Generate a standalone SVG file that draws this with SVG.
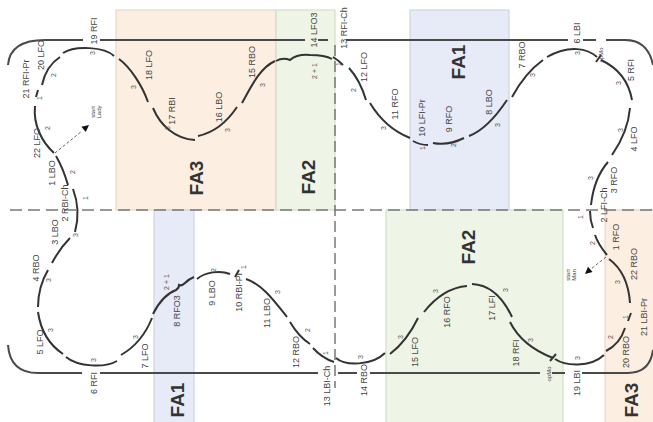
<svg xmlns="http://www.w3.org/2000/svg" width="653" height="422" viewBox="0 0 653 422">
<style>
.fa3{fill:#fcefe1;stroke:#e3d2c0;stroke-width:1}
.fa2{fill:#eef5e6;stroke:#cbd9bf;stroke-width:1}
.fa1{fill:#e7eaf7;stroke:#c8cee2;stroke-width:1}
.rink{fill:none;stroke:#4a4a4a;stroke-width:2}
.mid{fill:none;stroke:#777;stroke-width:1.5;stroke-dasharray:12 6}
.vdash{fill:none;stroke:#777;stroke-width:1.5;stroke-dasharray:11 5}
.edge path{fill:none;stroke:#333;stroke-width:2;stroke-linecap:butt}
.lbl{font-family:"Liberation Sans",Arial,sans-serif;font-size:9px;fill:#444;text-anchor:middle}
.beat{font-family:"Liberation Sans",Arial,sans-serif;font-size:7px;fill:#555;text-anchor:middle}
.sm{font-family:"Liberation Sans",Arial,sans-serif;font-size:6px;fill:#444;text-anchor:middle}
.fa{font-family:"Liberation Sans",Arial,sans-serif;font-size:19px;font-weight:bold;fill:#333;text-anchor:middle}
.start{fill:none;stroke:#666;stroke-width:1;stroke-dasharray:3 2}
</style>

<g id="areas">
  <rect id="FA3-top" class="fa3" x="116" y="10" width="160" height="200"/>
  <rect id="FA2-top" class="fa2" x="276" y="10" width="59" height="200"/>
  <rect id="FA1-top" class="fa1" x="410" y="10" width="99" height="200"/>
  <rect id="FA1-bottom" class="fa1" x="154" y="210" width="40" height="213"/>
  <rect id="FA2-bottom" class="fa2" x="386" y="210" width="177" height="213"/>
  <rect id="FA3-bottom" class="fa3" x="605" y="210" width="49" height="213"/>
</g>

<g id="rink">
  <path class="rink" d="M8,65 Q10,40 45,40 L83,40 M100,40 L305,40 M318,40 L328,40 M346,40 L568,40 M583,40 L596,40 M606,40 L625,40 Q648,40 653,65"/>
  <path class="rink" d="M8,345 Q10,373 38,373 L82,373 M100,373 L318,373 M338,373 L357,373 M370,373 L540,373 M552,373 L565,373 M582,373 L628,373 Q650,373 653,350"/>
  <path class="mid" d="M10,210 L653,210"/>
  <path class="vdash" d="M335,45 L335,388"/>
</g>

<g id="fa-labels">
  <text class="fa" transform="translate(203,178) rotate(-90)">FA3</text>
  <text class="fa" transform="translate(315,177) rotate(-90)">FA2</text>
  <text class="fa" transform="translate(465,62) rotate(-90)">FA1</text>
  <text class="fa" transform="translate(184,400) rotate(-90)">FA1</text>
  <text class="fa" transform="translate(475,247) rotate(-90)">FA2</text>
  <text class="fa" transform="translate(638,400) rotate(-90)">FA3</text>
</g>

<g id="connectors" class="edge">
  <path id="s19RFI" d="M114,56 C105,47 75,45 63,53"/>
  <path id="s20LFO" d="M60,57 Q46,66 42,85"/>
  <path id="s21RFIPr" d="M38,90 L36,97"/>
  <path id="s22LFO" d="M35,106 C33,125 42,142 54,153"/>
  <path id="s1LBO" d="M56,156 Q63,168 68,185"/>
  <path id="s2RBICh" d="M73,189 Q81,210 75,232"/>
  <path id="s3LBO" d="M70,238 Q60,248 52,263"/>
  <path id="s4RBO" d="M48,270 Q38,287 38,307"/>
  <path id="s5LFO" d="M38,312 Q42,340 63,354"/>
  <path id="s6RFI" d="M66,357 C78,367 105,368 117,361"/>
  <path id="s7LFO" d="M121,355 Q142,343 152,318"/>
  <path id="s8RFO3" d="M153,314 C160,300 168,293 176,290 C178,289 179,287 179,285 C181,286 183,285 185,283 Q189,279 194,277"/>
  <path id="s9LBO" d="M197,279 C205,272 220,270 230,274"/>
  <path id="s10RBIPr" d="M235,277 L239,270"/>
  <path id="s11LBO" d="M246,279 C262,284 275,302 287,317"/>
  <path id="s12RBO" d="M290,322 Q299,337 310,344"/>
  <path id="s13LBICh" d="M313,348 Q322,358 334,362"/>
  <path id="s14RBO" d="M336,358 C345,366 372,366 385,353"/>
  <path id="s15LFO" d="M390,354 Q407,341 418,318"/>
  <path id="s16RFO" d="M424,312 Q443,288 467,286"/>
  <path id="s17LFI" d="M472,284 Q497,285 512,317"/>
  <path id="s18RFI" d="M510,322 Q522,346 553,358"/>
  <path id="opMoB" d="M550,361 L556,354"/>
  <path id="s19LBI" d="M555,359 C565,366 590,368 604,355"/>
  <path id="s20RBO" d="M606,351 Q620,344 625,328"/>
  <path id="s21LBIPr" d="M628,321 L631,313"/>
  <path id="s22RBO" d="M630,303 Q628,273 609,259"/>
  <path id="s1RFO" d="M607,255 Q598,244 595,235"/>
  <path id="s2LFICh" d="M593,228 Q590,220 590,211"/>
  <path id="s3RFO" d="M591,205 Q594,178 608,162"/>
  <path id="s4LFO" d="M612,155 Q628,132 630,108"/>
  <path id="s5RFI" d="M632,100 Q627,72 601,60"/>
  <path id="opMoT" d="M596,62 L601,55"/>
  <path id="s6LBI" d="M597,57 C588,49 570,44 547,57"/>
  <path id="s7RBO" d="M543,60 Q525,73 512,97"/>
  <path id="s8LBO" d="M507,100 C497,115 485,130 469,136"/>
  <path id="s9RFO" d="M464,138 Q448,146 433,143"/>
  <path id="s10LFIPr" d="M428,145 Q420,145 413,141"/>
  <path id="s11RFO" d="M370,103 Q385,128 410,138"/>
  <path id="s12LFO" d="M349,68 Q360,80 366,100"/>
  <path id="s13RFICh" d="M333,57 Q338,60 343,65"/>
  <path id="s14LFO3" d="M276,61 Q283,57 290,60 Q297,54 310,55 Q325,55 332,59"/>
  <path id="s15RBO" d="M242,103 C252,85 260,68 275,61"/>
  <path id="s16LBO" d="M237,107 C225,125 212,133 198,136"/>
  <path id="s17RBI" d="M153,108 C160,125 175,139 195,140"/>
  <path id="s18LFO" d="M148,102 C142,85 130,67 119,59"/>
</g>

<g id="start-markers">
  <path class="start" d="M55,153 L82,131"/>
  <path class="start" d="M606,257 L591,269"/>
  <polygon points="89,125 85.8,132.1 81.4,126.7" fill="#111"/>
  <polygon points="585,274 592.6,272.1 588,266.7" fill="#111"/>
  <text class="sm" transform="translate(95,112) rotate(-90)">start</text>
  <text class="sm" transform="translate(101,112) rotate(-90)">Lady</text>
  <text class="sm" transform="translate(570,275) rotate(-90)">start</text>
  <text class="sm" transform="translate(576,275) rotate(-90)">Man</text>
</g>

<g id="labels">
  <text class="lbl" transform="translate(97,31) rotate(-90)">19 RFI</text>
  <text class="lbl" transform="translate(44,55) rotate(-90)">20 LFO</text>
  <text class="lbl" transform="translate(29,79) rotate(-90)">21 RFI-Pr</text>
  <text class="lbl" transform="translate(40,143) rotate(-90)">22 LFO</text>
  <text class="lbl" transform="translate(55,173) rotate(-90)">1 LBO</text>
  <text class="lbl" transform="translate(68,203) rotate(-90)">2 RBI-Ch</text>
  <text class="lbl" transform="translate(152,65) rotate(-90)">18 LFO</text>
  <text class="lbl" transform="translate(175,111) rotate(-90)">17 RBI</text>
  <text class="lbl" transform="translate(222,107) rotate(-90)">16 LBO</text>
  <text class="lbl" transform="translate(255,62) rotate(-90)">15 RBO</text>
  <text class="lbl" transform="translate(317,30) rotate(-90)">14 LFO3</text>
  <text class="beat" transform="translate(317,71) rotate(-90)">2 + 1</text>
  <text class="lbl" transform="translate(347,28) rotate(-90)">13 RFI-Ch</text>
  <text class="lbl" transform="translate(367,67) rotate(-90)">12 LFO</text>
  <text class="lbl" transform="translate(398,104) rotate(-90)">11 RFO</text>
  <text class="lbl" transform="translate(425,118) rotate(-90)">10 LFI-Pr</text>
  <text class="lbl" transform="translate(452,119) rotate(-90)">9 RFO</text>
  <text class="lbl" transform="translate(492,102) rotate(-90)">8 LBO</text>
  <text class="lbl" transform="translate(525,55) rotate(-90)">7 RBO</text>
  <text class="lbl" transform="translate(580,33) rotate(-90)">6 LBI</text>
  <text class="sm" transform="translate(603,55) rotate(-90)">opMo</text>
  <text class="lbl" transform="translate(634,70) rotate(-90)">5 RFI</text>
  <text class="lbl" transform="translate(637,139) rotate(-90)">4 LFO</text>
  <text class="lbl" transform="translate(617,180) rotate(-90)">3 RFO</text>
  <text class="lbl" transform="translate(607,205) rotate(-90)">2 LFI-Ch</text>
  <text class="lbl" transform="translate(619,237) rotate(-90)">1 RFO</text>
  <text class="lbl" transform="translate(637,264) rotate(-90)">22 RBO</text>
  <text class="lbl" transform="translate(647,317) rotate(-90)">21 LBI-Pr</text>
  <text class="lbl" transform="translate(629,352) rotate(-90)">20 RBO</text>
  <text class="lbl" transform="translate(580,383) rotate(-90)">19 LBI</text>
  <text class="sm" transform="translate(551,374) rotate(-90)">opMo</text>
  <text class="lbl" transform="translate(519,353) rotate(-90)">18 RFI</text>
  <text class="lbl" transform="translate(495,308) rotate(-90)">17 LFI</text>
  <text class="lbl" transform="translate(450,312) rotate(-90)">16 RFO</text>
  <text class="lbl" transform="translate(418,352) rotate(-90)">15 LFO</text>
  <text class="lbl" transform="translate(367,380) rotate(-90)">14 RBO</text>
  <text class="lbl" transform="translate(330,386) rotate(-90)">13 LBI-Ch</text>
  <text class="lbl" transform="translate(299,352) rotate(-90)">12 RBO</text>
  <text class="lbl" transform="translate(270,313) rotate(-90)">11 LBO</text>
  <text class="lbl" transform="translate(242,292) rotate(-90)">10 RBI-Pr</text>
  <text class="lbl" transform="translate(215,293) rotate(-90)">9 LBO</text>
  <text class="lbl" transform="translate(180,311) rotate(-90)">8 RFO3</text>
  <text class="beat" transform="translate(169,282) rotate(-90)">2 + 1</text>
  <text class="lbl" transform="translate(148,356) rotate(-90)">7 LFO</text>
  <text class="lbl" transform="translate(97,383) rotate(-90)">6 RFI</text>
  <text class="lbl" transform="translate(43,342) rotate(-90)">5 LFO</text>
  <text class="lbl" transform="translate(39,268) rotate(-90)">4 RBO</text>
  <text class="lbl" transform="translate(58,232) rotate(-90)">3 LBO</text>
</g>

<g id="beats">
  <text class="beat" transform="translate(94.5,53) rotate(-90)">3</text>
  <text class="beat" transform="translate(55.5,75) rotate(-90)">2</text>
  <text class="beat" transform="translate(42,98) rotate(-90)">1</text>
  <text class="beat" transform="translate(49.5,128) rotate(-90)">2</text>
  <text class="beat" transform="translate(74.5,172) rotate(-90)">2</text>
  <text class="beat" transform="translate(87.5,198) rotate(-90)">1</text>
  <text class="beat" transform="translate(135.5,87) rotate(-90)">3</text>
  <text class="beat" transform="translate(169.5,128) rotate(-90)">3</text>
  <text class="beat" transform="translate(229.5,130) rotate(-90)">3</text>
  <text class="beat" transform="translate(264.5,85) rotate(-90)">3</text>
  <text class="beat" transform="translate(340.5,64) rotate(-90)">1</text>
  <text class="beat" transform="translate(355.5,90) rotate(-90)">2</text>
  <text class="beat" transform="translate(385.5,128) rotate(-90)">3</text>
  <text class="beat" transform="translate(424.5,148) rotate(-90)">1</text>
  <text class="beat" transform="translate(455.5,145) rotate(-90)">2</text>
  <text class="beat" transform="translate(499.5,125) rotate(-90)">3</text>
  <text class="beat" transform="translate(534.5,75) rotate(-90)">3</text>
  <text class="beat" transform="translate(579.5,53) rotate(-90)">3</text>
  <text class="beat" transform="translate(620.5,83) rotate(-90)">3</text>
  <text class="beat" transform="translate(622.5,130) rotate(-90)">3</text>
  <text class="beat" transform="translate(592.5,178) rotate(-90)">3</text>
  <text class="beat" transform="translate(582.5,217) rotate(-90)">1</text>
  <text class="beat" transform="translate(594.5,243) rotate(-90)">2</text>
  <text class="beat" transform="translate(619.5,282) rotate(-90)">3</text>
  <text class="beat" transform="translate(627.5,317) rotate(-90)">1</text>
  <text class="beat" transform="translate(612.5,337) rotate(-90)">2</text>
  <text class="beat" transform="translate(579.5,358) rotate(-90)">3</text>
  <text class="beat" transform="translate(532.5,340) rotate(-90)">3</text>
  <text class="beat" transform="translate(507.5,290) rotate(-90)">3</text>
  <text class="beat" transform="translate(437.5,291) rotate(-90)">3</text>
  <text class="beat" transform="translate(402.5,337) rotate(-90)">3</text>
  <text class="beat" transform="translate(362.5,357) rotate(-90)">3</text>
  <text class="beat" transform="translate(327.5,353) rotate(-90)">1</text>
  <text class="beat" transform="translate(309.5,330) rotate(-90)">2</text>
  <text class="beat" transform="translate(279.5,292) rotate(-90)">3</text>
  <text class="beat" transform="translate(245.5,267) rotate(-90)">1</text>
  <text class="beat" transform="translate(215.5,270) rotate(-90)">2</text>
  <text class="beat" transform="translate(137.5,337) rotate(-90)">3</text>
  <text class="beat" transform="translate(95.5,360) rotate(-90)">3</text>
  <text class="beat" transform="translate(52.5,330) rotate(-90)">3</text>
  <text class="beat" transform="translate(50.5,280) rotate(-90)">3</text>
  <text class="beat" transform="translate(77.5,235) rotate(-90)">3</text>
</g>
</svg>
